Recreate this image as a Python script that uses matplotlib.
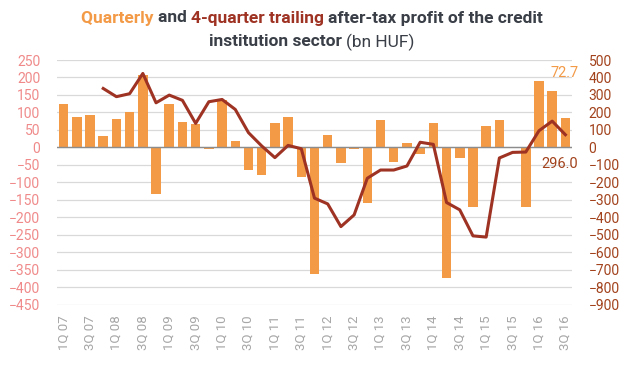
import matplotlib
matplotlib.use("Agg")
from matplotlib import pyplot as plt
import numpy as np

plt.rcParams['font.family'] = ['Roboto', 'DejaVu Sans']

# quarters 1Q07 .. 3Q16
quarters = [f"{q}Q {y:02d}" for y in range(7, 17) for q in range(1, 5)][:39]

# quarterly after-tax profit (bn HUF, left axis)
quarterly = [124, 87, 92, 32, 81, 101, 207, -135, 124, 73, 67, -4,
             135, 18, -66, -78, 70, 87, -84, -364, 35, -44, -6, -158,
             78, -41, 12, -20, 70, -375, -30, -171, 61, 78, 2, -170,
             190, 161, 84]

# 4-quarter trailing (bn HUF, right axis), starts at 4Q07
trailing = [None, None, None, 337, 290, 307, 423, 255, 299, 269, 137, 261,
            274, 217, 84, 8, -59, 11, -8, -291, -324, -454, -387, -177,
            -130, -130, -107, 29, 17, -316, -358, -507, -514, -61, -29, -27,
            95, 150, 72]

ORANGE = '#F39A47'
DARKRED = '#9E3223'
LEFTCOL = '#F08A8A'
RIGHTCOL = '#A2421C'
TITLECOL = '#3A3F47'

fig = plt.figure(figsize=(6.24, 3.73), dpi=100)
ax = fig.add_axes([57 / 624, 1 - 304.5 / 373, 515 / 624, 244.5 / 373])
ax2 = ax.twinx()

x = np.arange(len(quarters))
ax.bar(x, quarterly, width=0.72, color=ORANGE, zorder=2)
ax.set_ylim(-450, 250)
ax.set_yticks(np.arange(-450, 251, 50))
ax.set_xlim(-0.5, len(quarters) - 0.5)
ax.grid(axis='y', color='#D9D9D9', linewidth=0.9, zorder=0)
ax.axhline(0, color='#8C8C8C', linewidth=1, zorder=3)
ax.set_axisbelow(True)
ax.set_xticks(x[::2])
ax.set_xticklabels(quarters[::2], rotation=90, color='#A6A6A6', fontsize=9.5)
ax.tick_params(axis='y', colors=LEFTCOL, labelsize=10, length=0, pad=12)
ax.tick_params(axis='x', length=0, pad=8)

tx = [i for i, v in enumerate(trailing) if v is not None]
ty = [v for v in trailing if v is not None]
ax2.plot(tx, ty, color=DARKRED, linewidth=2.2, zorder=4)
ax2.set_ylim(-900, 500)
ax2.set_yticks(np.arange(-900, 501, 100))
ax2.tick_params(axis='y', colors=RIGHTCOL, labelsize=10, length=0, pad=12)

for a in (ax, ax2):
    for s in a.spines.values():
        s.set_visible(False)

fig.text(565 / 624, 1 - 73 / 373, '72.7', color=ORANGE, fontsize=10.5,
         ha='center', va='center')
fig.text(560 / 624, 1 - 164 / 373, '296.0', color=RIGHTCOL, fontsize=10.5,
         ha='center', va='center')


# title made of coloured pieces, centred per line
def title_line(parts, y):
    r = fig.canvas.get_renderer()
    texts = []
    for s, c, w in parts:
        t = fig.text(0, y, s, color=c, fontweight=w, fontsize=12.5,
                     ha='left', va='center')
        texts.append(t)
    widths = [t.get_window_extent(r).width for t in texts]
    total = sum(widths)
    start = 312 - total / 2
    for t, w in zip(texts, widths):
        t.set_x(start / 624)
        start += w


title_line([('Quarterly ', ORANGE, 'bold'), ('and ', TITLECOL, 'bold'),
            ('4-quarter trailing ', DARKRED, 'bold'),
            ('after-tax profit of the credit', TITLECOL, 'bold')], 1 - 18 / 373)
title_line([('institution sector ', TITLECOL, 'bold'),
            ('(bn HUF)', TITLECOL, 'normal')], 1 - 42 / 373)

fig.savefig('out.png', dpi=100)
